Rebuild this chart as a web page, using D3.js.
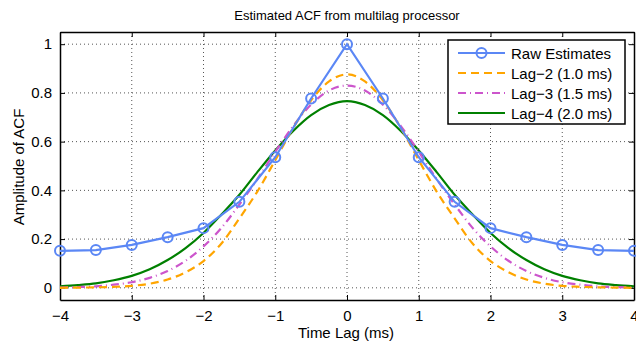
<!DOCTYPE html>
<html>
<head>
<meta charset="utf-8">
<script src="https://cdn.jsdelivr.net/npm/d3@7"></script>
<style>
    body { margin: 0; background: #fff; }
    svg { display: block; font-family: 'Liberation Sans', Arial, Helvetica, sans-serif; }
    .grid line { stroke: #555; stroke-width: 1; stroke-dasharray: 1,3; }
</style>
</head>
<body>
<svg class="acf" width="636" height="347"></svg>
<script>
// time lag of each sample (ms)
const lags = [-4, -3.75, -3.5, -3.25, -3, -2.75, -2.5, -2.25, -2, -1.75, -1.5, -1.25, -1, -0.75, -0.5, -0.25,
    0, 0.25, 0.5, 0.75, 1, 1.25, 1.5, 1.75, 2, 2.25, 2.5, 2.75, 3, 3.25, 3.5, 3.75, 4];
const rawLags = [-4, -3.5, -3, -2.5, -2, -1.5, -1, -0.5, 0, 0.5, 1, 1.5, 2, 2.5, 3, 3.5, 4];
const rawEstimates = [0.152, 0.155, 0.176, 0.208, 0.245, 0.353, 0.536, 0.777, 1.0,
    0.777, 0.536, 0.353, 0.245, 0.208, 0.176, 0.155, 0.152];
const lag2 = [0.000, 0.001, 0.002, 0.004, 0.008, 0.017, 0.034, 0.064, 0.110, 0.182, 0.285, 0.395, 0.524, 0.656, 0.770, 0.847,
    0.876, 0.847, 0.770, 0.656, 0.524, 0.395, 0.285, 0.182, 0.110, 0.064, 0.034, 0.017, 0.008, 0.004, 0.002, 0.001, 0.000];
const lag3 = [0.001, 0.003, 0.006, 0.013, 0.023, 0.041, 0.069, 0.111, 0.170, 0.246, 0.342, 0.446, 0.558, 0.664, 0.752, 0.810,
    0.830, 0.810, 0.752, 0.664, 0.558, 0.446, 0.342, 0.246, 0.170, 0.111, 0.069, 0.041, 0.023, 0.013, 0.006, 0.003, 0.001];
const lag4 = [0.006, 0.011, 0.018, 0.031, 0.049, 0.076, 0.114, 0.163, 0.225, 0.301, 0.382, 0.475, 0.564, 0.644, 0.709, 0.750,
    0.766, 0.750, 0.709, 0.644, 0.564, 0.475, 0.382, 0.301, 0.225, 0.163, 0.114, 0.076, 0.049, 0.031, 0.018, 0.011, 0.006];

const xTicks = [-4, -3, -2, -1, 0, 1, 2, 3, 4];
const yTicks = [0, 0.2, 0.4, 0.6, 0.8, 1];
const seriesNames = ['Raw Estimates', 'Lag\u22122 (1.0 ms)', 'Lag\u22123 (1.5 ms)', 'Lag\u22124 (2.0 ms)'];

const svg = d3.select('svg.acf'),
    margin = { top: 32, right: 2, bottom: 47, left: 60 },
    width = +svg.attr('width') - margin.left - margin.right,
    height = +svg.attr('height') - margin.top - margin.bottom;

const x = d3.scaleLinear().domain([-4, 4]).range([0, width]);
const y = d3.scaleLinear().domain([-0.05, 1.05]).range([height, 0]);

const g = svg.append('g')
    .attr('transform', 'translate(' + margin.left + ',' + margin.top + ')');

// dotted grid
const grid = g.append('g').attr('class', 'grid');
grid.selectAll('.gx').data(xTicks.slice(1, -1)).enter().append('line')
    .attr('x1', d => x(d)).attr('x2', d => x(d))
    .attr('y1', 0).attr('y2', height);
grid.selectAll('.gy').data(yTicks).enter().append('line')
    .attr('x1', 0).attr('x2', width)
    .attr('y1', d => y(d)).attr('y2', d => y(d));

// axes, ticks pointing inwards, box all round like matlab
const fmtMinus = d => String(d).replace('-', '\u2212');
const xAxis = g.append('g')
    .attr('transform', 'translate(0,' + height + ')')
    .call(d3.axisBottom(x).tickValues(xTicks).tickSizeInner(-5).tickSizeOuter(0).tickPadding(10).tickFormat(fmtMinus));
const yAxis = g.append('g')
    .call(d3.axisLeft(y).tickValues(yTicks).tickSizeInner(-5).tickSizeOuter(0).tickPadding(8).tickFormat(d3.format('')));
g.append('g').call(d3.axisTop(x).tickValues(xTicks).tickSizeInner(-5).tickSizeOuter(0).tickFormat(''));
g.append('g').attr('transform', 'translate(' + width + ',0)')
    .call(d3.axisRight(y).tickValues(yTicks).tickSizeInner(-5).tickSizeOuter(0).tickFormat(''));

g.selectAll('.domain').attr('stroke', '#000').attr('stroke-width', 1.5);
g.selectAll('.tick line').attr('stroke', '#000');
xAxis.selectAll('text').attr('font-size', 15).attr('fill', '#000');
yAxis.selectAll('text').attr('font-size', 15).attr('fill', '#000');

// labels
svg.append('text')
    .attr('x', margin.left + width / 2).attr('y', 20)
    .attr('text-anchor', 'middle').attr('font-size', 13)
    .text('Estimated ACF from multilag processor');
svg.append('text')
    .attr('x', margin.left + width / 2 - 1).attr('y', 338)
    .attr('text-anchor', 'middle').attr('font-size', 15)
    .text('Time Lag (ms)');
svg.append('text')
    .attr('text-anchor', 'middle').attr('font-size', 15)
    .attr('transform', 'translate(24,167)rotate(-90)')
    .text('Amplitude of ACF');

// curves
const smooth = d3.line().x((d, i) => x(lags[i])).y(d => y(d)).curve(d3.curveMonotoneX);
const straight = d3.line().x((d, i) => x(rawLags[i])).y(d => y(d));

const styles = [
    { color: '#5b87f5', dash: null },
    { color: '#ffa500', dash: '8,5' },
    { color: '#cc55cc', dash: '8,4,1,4' },
    { color: '#008000', dash: null }
];

g.append('path').datum(lag4).attr('d', smooth)
    .attr('fill', 'none').attr('stroke', styles[3].color).attr('stroke-width', 2.2);
g.append('path').datum(lag3).attr('d', smooth)
    .attr('fill', 'none').attr('stroke', styles[2].color).attr('stroke-width', 2.2).attr('stroke-dasharray', styles[2].dash);
g.append('path').datum(lag2).attr('d', smooth)
    .attr('fill', 'none').attr('stroke', styles[1].color).attr('stroke-width', 2.2).attr('stroke-dasharray', styles[1].dash);

g.append('path').datum(rawEstimates).attr('d', straight)
    .attr('fill', 'none').attr('stroke', styles[0].color).attr('stroke-width', 2.2);
g.selectAll('.marker').data(rawEstimates).enter().append('circle')
    .attr('class', 'marker')
    .attr('cx', (d, i) => x(rawLags[i])).attr('cy', d => y(d)).attr('r', 5)
    .attr('fill', 'none').attr('stroke', styles[0].color).attr('stroke-width', 2);

// legend
const legend = svg.append('g').attr('transform', 'translate(448,40)');
legend.append('rect').attr('width', 177).attr('height', 84)
    .attr('fill', '#fff').attr('stroke', '#000').attr('stroke-width', 1.5);
seriesNames.forEach((name, i) => {
    const ly = 13 + i * 20;
    legend.append('line').attr('x1', 10).attr('x2', 57).attr('y1', ly).attr('y2', ly)
        .attr('stroke', styles[i].color).attr('stroke-width', 2.2).attr('stroke-dasharray', styles[i].dash);
    if (i === 0) {
        legend.append('circle').attr('cx', 33.5).attr('cy', ly).attr('r', 5)
            .attr('fill', 'none').attr('stroke', styles[0].color).attr('stroke-width', 2);
    }
    legend.append('text').attr('x', 63).attr('y', ly + 5.5).attr('font-size', 15).text(name);
});
</script>
</body>
</html>
